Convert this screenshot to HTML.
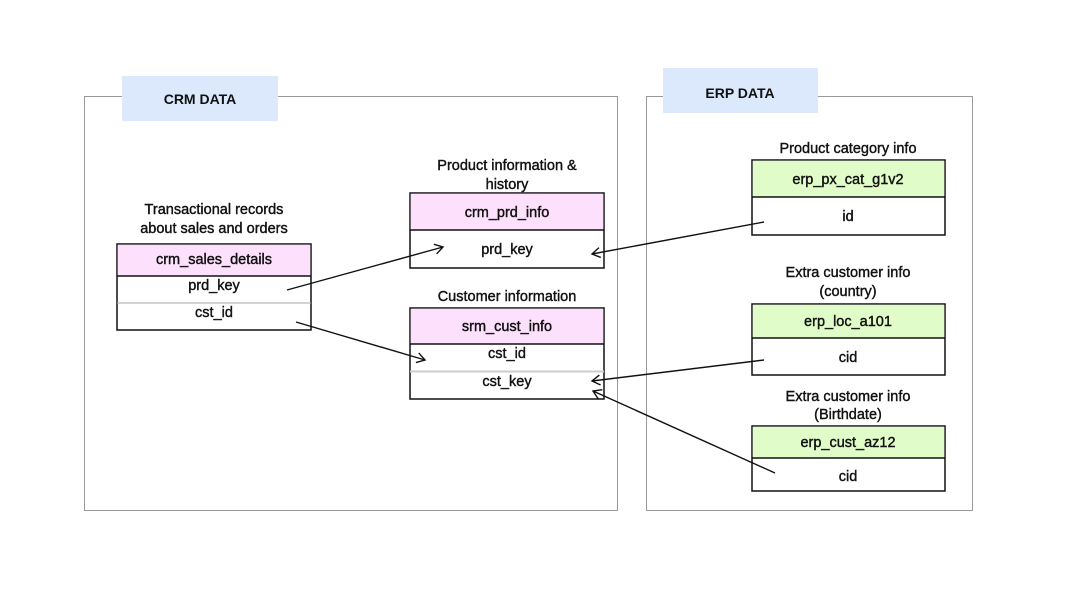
<!DOCTYPE html>
<html><head><meta charset="utf-8"><style>
html,body{margin:0;padding:0;background:#fff;}
svg{display:block;}
text{font-family:"Liberation Sans",sans-serif;font-size:14.5px;fill:#111;stroke:#111;stroke-width:0.4;text-anchor:middle;}
</style></head><body>
<svg width="1080" height="591" viewBox="0 0 1080 591">
<defs><marker id="a" markerWidth="12" markerHeight="12" refX="10" refY="6" orient="auto" markerUnits="userSpaceOnUse"><path d="M2,1 L10,6 L2,11" fill="none" stroke="#111" stroke-width="1.4"/></marker></defs>
<rect x="84.5" y="96.5" width="533" height="414" fill="none" stroke="#999" stroke-width="1"/>
<rect x="122" y="76" width="156" height="45" fill="#dce8fc"/>
<text x="200" y="104" style="font-weight:bold;font-size:14px;stroke-width:0">CRM DATA</text>
<rect x="646.5" y="96.5" width="326" height="414" fill="none" stroke="#999" stroke-width="1"/>
<rect x="663" y="68" width="155" height="45" fill="#dce8fc"/>
<text x="740" y="98" style="font-weight:bold;font-size:14px;stroke-width:0">ERP DATA</text>

<text x="214" y="214">Transactional records</text>
<text x="214" y="233">about sales and orders</text>
<rect x="117" y="244" width="194" height="86" fill="#fff" stroke="#111" stroke-width="1.5"/>
<rect x="117.75" y="244.75" width="192.5" height="31" fill="#fde0fb"/>
<line x1="117" y1="276" x2="311" y2="276" stroke="#111" stroke-width="1.5"/>
<line x1="117" y1="303" x2="311" y2="303" stroke="#aaa" stroke-width="1"/>
<text x="214" y="264">crm_sales_details</text>
<text x="214" y="290">prd_key</text>
<text x="214" y="317">cst_id</text>

<text x="507" y="170">Product information &amp;</text>
<text x="507" y="189">history</text>
<rect x="410" y="193" width="194" height="75" fill="#fff" stroke="#111" stroke-width="1.5"/>
<rect x="410.75" y="193.75" width="192.5" height="36" fill="#fde0fb"/>
<line x1="410" y1="230" x2="604" y2="230" stroke="#111" stroke-width="1.5"/>
<text x="507" y="217">crm_prd_info</text>
<text x="507" y="254">prd_key</text>

<text x="507" y="301">Customer information</text>
<rect x="410" y="308" width="194" height="91" fill="#fff" stroke="#111" stroke-width="1.5"/>
<rect x="410.75" y="308.75" width="192.5" height="35" fill="#fde0fb"/>
<line x1="410" y1="344" x2="604" y2="344" stroke="#111" stroke-width="1.5"/>
<line x1="410" y1="371.5" x2="604" y2="371.5" stroke="#ccc" stroke-width="2"/>
<text x="507" y="331">srm_cust_info</text>
<text x="507" y="358">cst_id</text>
<text x="507" y="386">cst_key</text>

<text x="848" y="153">Product category info</text>
<rect x="752" y="160" width="193" height="75" fill="#fff" stroke="#111" stroke-width="1.5"/>
<rect x="752.75" y="160.75" width="191.5" height="36" fill="#e0fcc8"/>
<line x1="752" y1="197" x2="945" y2="197" stroke="#111" stroke-width="1.5"/>
<text x="848" y="184">erp_px_cat_g1v2</text>
<text x="848" y="221">id</text>

<text x="848" y="277">Extra customer info</text>
<text x="848" y="296">(country)</text>
<rect x="752" y="304" width="193" height="71" fill="#fff" stroke="#111" stroke-width="1.5"/>
<rect x="752.75" y="304.75" width="191.5" height="33" fill="#e0fcc8"/>
<line x1="752" y1="338" x2="945" y2="338" stroke="#111" stroke-width="1.5"/>
<text x="848" y="326">erp_loc_a101</text>
<text x="848" y="362">cid</text>

<text x="848" y="401">Extra customer info</text>
<text x="848" y="419">(Birthdate)</text>
<rect x="752" y="426" width="193" height="65" fill="#fff" stroke="#111" stroke-width="1.5"/>
<rect x="752.75" y="426.75" width="191.5" height="31" fill="#e0fcc8"/>
<line x1="752" y1="458" x2="945" y2="458" stroke="#111" stroke-width="1.5"/>
<text x="848" y="447">erp_cust_az12</text>
<text x="848" y="481">cid</text>

<g stroke="#111" stroke-width="1.4" fill="none">
<line x1="287" y1="290" x2="443" y2="247" marker-end="url(#a)"/>
<line x1="296" y1="322" x2="425" y2="360" marker-end="url(#a)"/>
<line x1="764" y1="222" x2="592" y2="254" marker-end="url(#a)"/>
<line x1="764" y1="360" x2="592" y2="381" marker-end="url(#a)"/>
<line x1="775" y1="473" x2="593" y2="391" marker-end="url(#a)"/>
</g>
</svg>
</body></html>
